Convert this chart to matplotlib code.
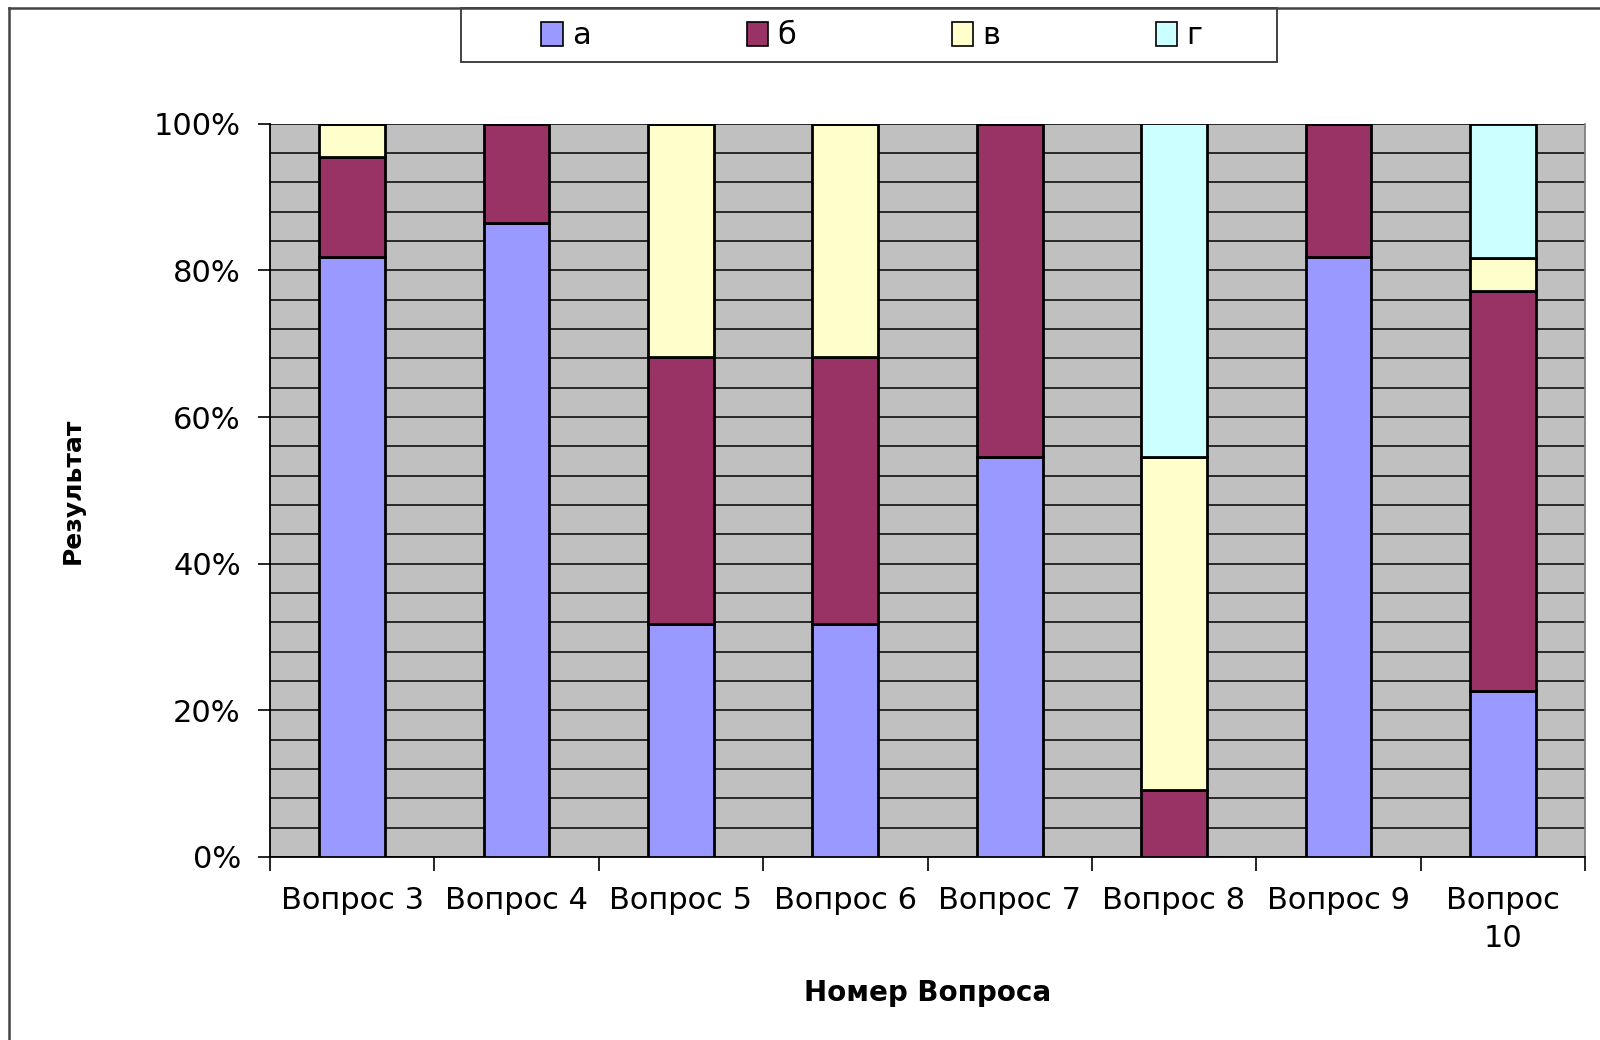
import matplotlib
matplotlib.use('Agg')
import matplotlib.pyplot as plt
from matplotlib.patches import Patch, Rectangle
from matplotlib.lines import Line2D
import numpy as np

plt.rcParams['font.family'] = ['DejaVu Sans']

questions = ['Вопрос 3', 'Вопрос 4', 'Вопрос 5', 'Вопрос 6', 'Вопрос 7',
             'Вопрос 8', 'Вопрос 9', 'Вопрос\n10']
answers = ['а', 'б', 'в', 'г']
# share of answers per question, %
ans_a = [81.8, 86.4, 31.8, 31.8, 54.5, 0.0, 81.8, 22.7]
ans_b = [13.6, 13.6, 36.4, 36.4, 45.5, 9.1, 18.2, 54.5]
ans_v = [4.5, 0.0, 31.8, 31.8, 0.0, 45.5, 0.0, 4.5]
ans_g = [0.0, 0.0, 0.0, 0.0, 0.0, 45.5, 0.0, 18.2]
colors = ['#9999FF', '#993366', '#FFFFCC', '#CCFFFF']

fig = plt.figure(figsize=(16, 10.4), dpi=100)
ax = fig.add_axes([0.16875, 0.176, 0.821875, 0.705])
ax.set_facecolor('#C0C0C0')

x = np.arange(len(questions))
bottom = np.zeros(len(questions))
for vals, col in zip([ans_a, ans_b, ans_v, ans_g], colors):
    vals = np.array(vals)
    ax.bar(x, vals, width=0.4, bottom=bottom, color=col,
           edgecolor='black', linewidth=2.0, zorder=3)
    bottom += vals

ax.set_xlim(-0.5, len(questions) - 0.5)
ax.set_ylim(0, 100)

# y axis: labels every 20 %, grid every 4 %
ax.set_yticks(np.arange(0, 101, 20))
ax.set_yticks(np.arange(0, 101, 4), minor=True)
ax.set_yticklabels(['%d%%' % v for v in range(0, 101, 20)], fontsize=22)
ax.yaxis.grid(True, which='both', color='black', linewidth=1.1, zorder=1)
ax.set_axisbelow(True)
ax.tick_params(axis='y', which='major', direction='out', length=9,
               width=1.2, pad=12)
ax.tick_params(axis='y', which='minor', length=0)

# x axis: labels at centres, ticks between categories
ax.set_xticks(x)
ax.set_xticklabels(questions, fontsize=22, linespacing=1.4)
ax.set_xticks(np.arange(-0.5, len(questions), 1), minor=True)
ax.tick_params(axis='x', which='major', length=0, pad=21)
ax.tick_params(axis='x', which='minor', direction='out', length=10, width=1.2)

for side in ['left', 'bottom']:
    ax.spines[side].set_color('black')
    ax.spines[side].set_linewidth(1.3)
ax.spines['top'].set_visible(False)
ax.spines['right'].set_color('#808080')
ax.spines['right'].set_linewidth(1.3)

ax.set_xlabel('Номер Вопроса', fontsize=20, fontweight='bold')
ax.xaxis.set_label_coords(0.5, -0.166)
ax.set_ylabel('Результат', fontsize=18, fontweight='bold')
ax.yaxis.set_label_coords(-0.141, 0.5)

# legend
handles = [Patch(facecolor=c, edgecolor='black', linewidth=1.2) for c in colors]
fig.legend(handles, answers, loc='center', bbox_to_anchor=(0.545, 1 - 36 / 1040),
           ncol=4, frameon=False, fontsize=22, columnspacing=5.1,
           handlelength=0.7, handleheight=0.8, handletextpad=0.3)
fig.patches.append(Rectangle((461 / 1600, 1 - 62 / 1040), 816 / 1600, 54 / 1040,
                             transform=fig.transFigure, fill=False,
                             edgecolor='#333333', linewidth=1.3))

# chart border
fig.lines.append(Line2D([9 / 1600, 9 / 1600], [0, 1 - 8 / 1040],
                        transform=fig.transFigure, color='#444444', linewidth=1.8))
fig.lines.append(Line2D([9 / 1600, 1], [1 - 8 / 1040, 1 - 8 / 1040],
                        transform=fig.transFigure, color='#444444', linewidth=1.8))

fig.savefig('out.png', dpi=100, facecolor='white')
